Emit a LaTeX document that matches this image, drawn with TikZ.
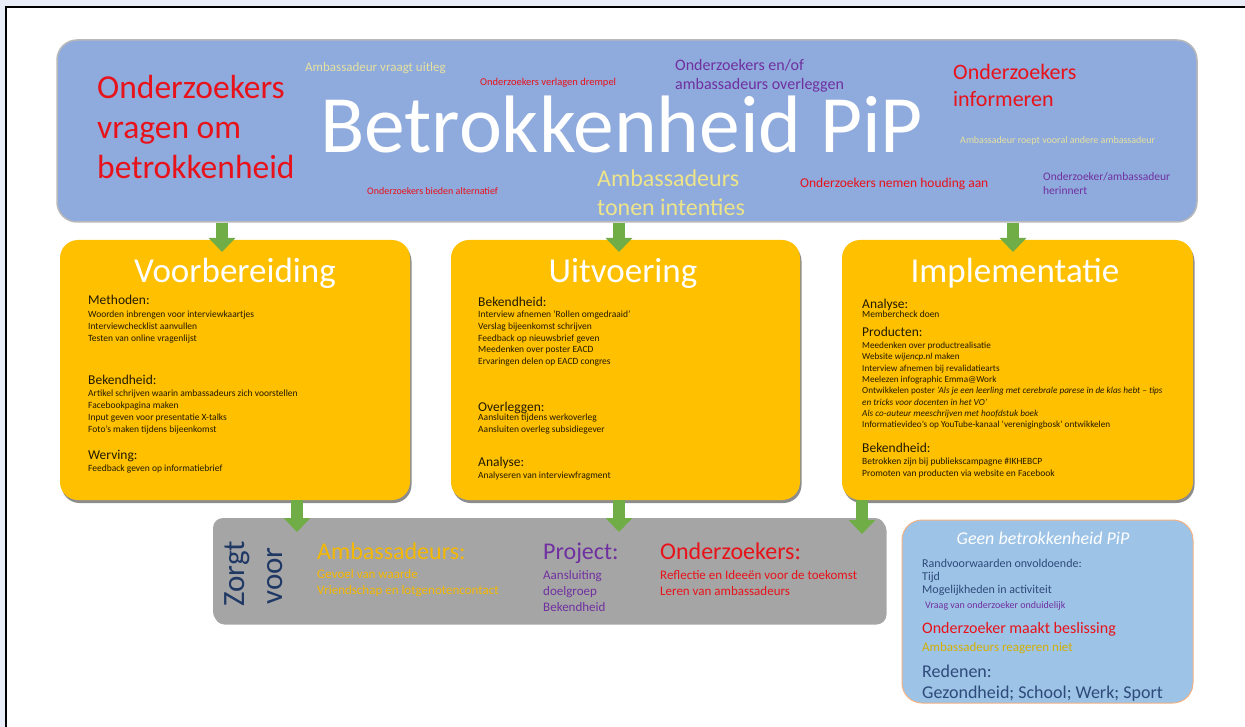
\documentclass[tikz,border=0pt]{standalone}
\usepackage{fontspec}
\setmainfont{Carlito}
\usetikzlibrary{arrows.meta,shadows}
\definecolor{bannerblue}{HTML}{8FAADC}
\definecolor{boxorange}{HTML}{FFC000}
\definecolor{boxgray}{HTML}{A5A5A5}
\definecolor{lightblue}{HTML}{9DC3E6}
\definecolor{tanborder}{HTML}{F4B183}
\definecolor{arrowgreen}{HTML}{70AD47}
\definecolor{txtred}{HTML}{E8121A}
\definecolor{txtpurple}{HTML}{7030A0}
\definecolor{paleyellow}{HTML}{E6E2A0}
\definecolor{softyellow}{HTML}{EEE48A}
\definecolor{gold}{HTML}{F5B800}
\definecolor{olivegold}{HTML}{D2AE06}
\definecolor{navy}{HTML}{1F3864}
\definecolor{bluenavy}{HTML}{2E4A7A}
\definecolor{darktext}{HTML}{221A00}
\definecolor{framebg}{HTML}{E9EDF7}
\tikzset{
  txt/.style={anchor=base west, inner sep=0pt, align=left},
  ctxt/.style={anchor=base, inner sep=0pt, align=center},
  fs/.style 2 args={font=\fontsize{#1}{#2}\selectfont},
  bannerbox/.style={draw=gray!55, line width=1.5pt, fill=bannerblue, rounded corners=20pt, inner sep=0pt},
  phasebox/.style={fill=boxorange, rounded corners=18pt, minimum width=350pt, minimum height=260pt, inner sep=0pt,
     drop shadow={shadow xshift=1.5pt, shadow yshift=-3pt, fill=black, opacity=0.45}},
  graybox/.style={fill=boxgray, rounded corners=10pt, inner sep=0pt,
     drop shadow={shadow xshift=1.5pt, shadow yshift=-2.5pt, fill=black, opacity=0.35}},
  nobox/.style={fill=lightblue, draw=tanborder, line width=1pt, rounded corners=20pt, inner sep=0pt},
  garrow/.style={draw=arrowgreen, line width=12pt, -{Triangle[width=26pt,length=14pt]}},
  phasetitle/.style={ctxt, fs={35}{40}, text=white},
  head/.style={txt, fs={13.5}{16}, text=darktext},
  items/.style={txt, fs={9.5}{12}, text=darktext},
}
\begin{document}
\begin{tikzpicture}[x=1pt,y=1pt]
\useasboundingbox (0,0) rectangle (1245,-727);
\fill[framebg] (0,0) rectangle (1245,-727);
\fill[white] (6,-7) rectangle (1245,-727);
\draw[black, line width=1.2pt] (6,-727) -- (6,-7) -- (1245,-7);

% ---------- banner ----------
\node[bannerbox, minimum width=1140pt, minimum height=182pt] (top) at (627,-131) {};
\node[ctxt, fs={81.5}{90}, text=white] (title) at (621.5,-153) {Betrokkenheid PiP};
\node[txt, fs={33.5}{40}, text=txtred] (t1) at (97,-179) {Onderzoekers\\vragen om\\betrokkenheid};
\node[txt, fs={13}{14}, text=paleyellow] (t2) at (305,-72) {Ambassadeur vraagt uitleg};
\node[txt, fs={10.5}{12}, text=txtred] (t3) at (480,-85.5) {Onderzoekers verlagen drempel};
\node[txt, fs={16}{19}, text=txtpurple] (t4) at (675,-90) {Onderzoekers en/of\\ambassadeurs overleggen};
\node[txt, fs={22}{27}, text=txtred] (t5) at (953,-107) {Onderzoekers\\informeren};
\node[txt, fs={10}{12}, text=paleyellow] (t6) at (960,-144) {Ambassadeur roept vooral andere ambassadeur};
\node[txt, fs={13.5}{16}, text=txtred] (t7) at (800,-187.5) {Onderzoekers nemen houding aan};
\node[txt, fs={11.5}{14}, text=txtpurple] (t8) at (1043,-195) {Onderzoeker/ambassadeur\\herinnert};
\node[txt, fs={24}{29}, text=softyellow] (t9) at (597,-216) {Ambassadeurs\\tonen intenties};
\node[txt, fs={10}{12}, text=txtred] (t10) at (367,-195) {Onderzoekers bieden alternatief};

% ---------- phase boxes ----------
\node[phasebox] (vb) at (235,-370) {};
\node[phasebox, minimum width=349pt] (uv) at (625.5,-370) {};
\node[phasebox, minimum width=351pt] (im) at (1017.5,-370) {};

\node[phasetitle] (vbt) at (235,-283) {Voorbereiding};
\node[phasetitle] (uvt) at (623,-283) {Uitvoering};
\node[phasetitle] (imt) at (1015,-283) {Implementatie};

% Voorbereiding
\node[head] (vb1) at (88,-305) {Methoden:};
\node[items] (vb1i) at (88,-341.5) {Woorden inbrengen voor interviewkaartjes\\Interviewchecklist aanvullen\\Testen van online vragenlijst};
\node[head] (vb2) at (88,-384.5) {Bekendheid:};
\node[items] (vb2i) at (88,-432.5) {Artikel schrijven waarin ambassadeurs zich voorstellen\\Facebookpagina maken\\Input geven voor presentatie X-talks\\Foto’s maken tijdens bijeenkomst};
\node[head] (vb3) at (88,-459) {Werving:};
\node[items] (vb3i) at (88,-471.5) {Feedback geven op informatiebrief};

% Uitvoering
\node[head] (uv1) at (478,-306.5) {Bekendheid:};
\node[items, fs={9.5}{11.8}] (uv1i) at (478,-364.7) {Interview afnemen ‘Rollen omgedraaid’\\Verslag bijeenkomst schrijven\\Feedback op nieuwsbrief geven\\Meedenken over poster EACD\\Ervaringen delen op EACD congres};
\node[head] (uv2) at (478,-411.5) {Overleggen:};
\node[items, fs={9.5}{11.5}] (uv2i) at (478,-432) {Aansluiten tijdens werkoverleg\\Aansluiten overleg subsidiegever};
\node[head] (uv3) at (478,-466.5) {Analyse:};
\node[items] (uv3i) at (478,-478.5) {Analyseren van interviewfragment};

% Implementatie
\node[head] (im1) at (862,-308.5) {Analyse:};
\node[items] (im1i) at (862,-318) {Membercheck doen};
\node[head] (im2) at (862,-336.5) {Producten:};
\node[items, fs={9.2}{11.3}] (im2i) at (862,-427.6) {Meedenken over productrealisatie\\Website \textit{wijencp.nl} maken\\Interview afnemen bij revalidatiearts\\Meelezen infographic Emma@Work\\Ontwikkelen poster \textit{‘Als je een leerling met cerebrale parese in de klas hebt – tips}\\\textit{en tricks voor docenten in het VO’}\\\textit{Als co-auteur meeschrijven met hoofdstuk boek}\\Informatievideo’s op YouTube-kanaal ‘verenigingbosk’ ontwikkelen};
\node[head] (im3) at (862,-452.5) {Bekendheid:};
\node[items] (im3i) at (862,-476.5) {Betrokken zijn bij publiekscampagne \#IKHEBCP\\Promoten van producten via website en Facebook};

% ---------- gray box ----------
\node[graybox, minimum width=672pt, minimum height=104pt] (gr) at (549,-570) {};
\node[rotate=90, fs={31}{34}, text=navy, inner sep=0pt] (zorgt) at (237,-574) {Zorgt};
\node[rotate=90, fs={31}{34}, text=navy, inner sep=0pt] (voor) at (275,-576) {voor};
\node[txt, fs={24}{28}, text=gold] (g1) at (317,-559) {Ambassadeurs:};
\node[txt, fs={13}{16}, text=gold] (g1i) at (317,-594.5) {Gevoel van waarde\\Vriendschap en lotgenotencontact};
\node[txt, fs={24}{28}, text=txtpurple] (g2) at (543,-559) {Project:};
\node[txt, fs={13}{16}, text=txtpurple] (g2i) at (543,-611) {Aansluiting\\doelgroep\\Bekendheid};
\node[txt, fs={24}{28}, text=txtred] (g3) at (660,-559) {Onderzoekers:};
\node[txt, fs={13}{16}, text=txtred] (g3i) at (660,-595) {Reflectie en Ideeën voor de toekomst\\Leren  van ambassadeurs};

% ---------- no-involvement box ----------
\node[nobox, minimum width=291pt, minimum height=183pt] (nb) at (1047.5,-611.5) {};
\node[ctxt, text=white, font=\fontsize{18}{20}\selectfont\itshape] (nbt) at (1043,-544) {Geen betrokkenheid PiP};
\node[txt, fs={12}{13}, text=bluenavy] (nb1) at (922,-593) {Randvoorwaarden onvoldoende:\\Tijd\\Mogelijkheden in activiteit};
\node[txt, fs={10}{12}, text=txtpurple] (nb2) at (925,-608.5) {Vraag van onderzoeker onduidelijk};
\node[txt, fs={16}{18}, text=txtred] (nb3) at (922,-633) {Onderzoeker maakt beslissing};
\node[txt, fs={13}{15}, text=olivegold] (nb4) at (922,-651) {Ambassadeurs  reageren niet};
\node[txt, fs={18}{21}, text=bluenavy] (nb5) at (922,-698) {Redenen:\\Gezondheid; School; Werk; Sport};

% ---------- arrows ----------
\coordinate (a1) at (222,-252);
\coordinate (a2) at (619,-252);
\coordinate (a3) at (1013,-252);
\coordinate (b1) at (297,-532);
\coordinate (b2) at (619,-532);
\coordinate (b3) at (862,-534);
\draw[garrow] (top.south -| a1) -- (a1);
\draw[garrow] (top.south -| a2) -- (a2);
\draw[garrow] (top.south -| a3) -- (a3);
\draw[garrow] (vb.south -| b1) -- (b1);
\draw[garrow] (uv.south -| b2) -- (b2);
\draw[garrow] (im.south -| b3) -- (b3);
\end{tikzpicture}
\end{document}
